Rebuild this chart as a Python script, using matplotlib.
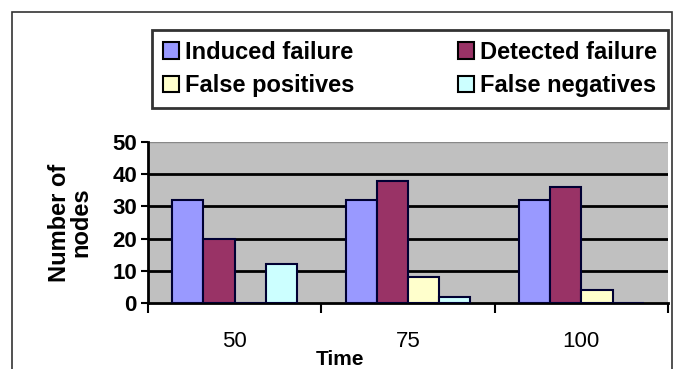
import numpy as np
import matplotlib
matplotlib.use("Agg")
import matplotlib.pyplot as plt
from matplotlib.patches import Rectangle

times = ["50", "75", "100"]
series = ["Induced failure", "Detected failure", "False positives", "False negatives"]
induced = [32, 32, 32]
detected = [20, 38, 36]
false_pos = [0, 8, 4]
false_neg = [12, 2, 0]
colors = ["#9999ff", "#993366", "#ffffcc", "#ccffff"]

plt.rcParams["font.family"] = ["Liberation Sans", "DejaVu Sans"]
plt.rcParams["font.weight"] = "bold"

fig = plt.figure(figsize=(6.81, 3.69), dpi=100)
fig.patch.set_facecolor("white")
# outer chart border
fig.add_artist(Rectangle((12 / 681, -0.01), 660 / 681, 1 - 12 / 369 + 0.01,
                         transform=fig.transFigure, fill=False, edgecolor="#333333", lw=1.2))

ax = fig.add_axes([148 / 681, 1 - 303 / 369, 520 / 681, 161 / 369])
ax.set_facecolor("#c0c0c0")

x = np.arange(len(times))
w = 0.18
values = [induced, detected, false_pos, false_neg]
bars = []
for i, vals in enumerate(values):
    b = ax.bar(x + (i - 1.5) * w, vals, w, color=colors[i], edgecolor="#000033", lw=1.5,
               label=series[i], zorder=3)
    bars.append(b)

ax.set_xlim(-0.5, 2.5)
ax.set_ylim(0, 50)
ax.set_yticks([0, 10, 20, 30, 40, 50])
for v in [10, 20, 30, 40]:
    ax.axhline(v, color="black", lw=2, zorder=2)

ax.set_xticks([-0.5, 0.5, 1.5, 2.5])
ax.set_xticklabels([])
ax.set_xticks(x, minor=True)
ax.set_xticklabels(times, minor=True, fontsize=16)
ax.tick_params(axis="x", which="minor", length=0, pad=20)
ax.tick_params(axis="x", which="major", length=7, width=1.5, direction="out")
ax.tick_params(axis="y", length=5, width=1.5, labelsize=16, pad=3)
for lbl in ax.get_xticklabels(minor=True):
    lbl.set_fontweight("normal")

for s in ["top", "right"]:
    ax.spines[s].set_visible(False)
ax.spines["left"].set_linewidth(2)
ax.spines["bottom"].set_linewidth(2)
ax.axhline(50, color="#888888", lw=1, zorder=2)

ax.set_xlabel("Time", fontsize=15, fontweight="bold")
ax.xaxis.set_label_coords(0.37, -0.29)
ax.set_ylabel("Number of\nnodes", fontsize=17, fontweight="bold", labelpad=14, linespacing=0.95)

# legend filled row-wise
order = [0, 2, 1, 3]
leg = fig.legend([bars[i] for i in order], [series[i] for i in order],
                 loc="upper left", bbox_to_anchor=(152 / 681, 1 - 30 / 369, 516 / 681, 0.0),
                 mode="expand", ncol=2, borderaxespad=0,
                 fontsize=17, frameon=True, fancybox=False, edgecolor="black",
                 handlelength=0.7, handleheight=0.7, handletextpad=0.25,
                 columnspacing=1.2, borderpad=0.45, labelspacing=0.45)
leg.get_frame().set_linewidth(2)
for h in leg.legend_handles:
    h.set_linewidth(1.5)
    h.set_edgecolor("black")

fig.savefig("out.png", dpi=100)
